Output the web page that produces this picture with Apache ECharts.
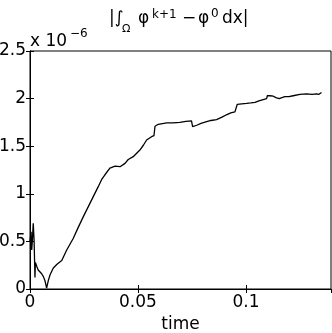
<!DOCTYPE html>
<html>
<head>
<meta charset="utf-8">
<script src="https://cdn.jsdelivr.net/npm/echarts@6/dist/echarts.min.js"></script>
<style>
  html, body { margin: 0; padding: 0; background: #fff; }
  #chart { width: 332px; height: 333px; }
</style>
</head>
<body>
<div id="chart"></div>
<script>
// time samples
const time = [
  0, 0.0005, 0.0008, 0.0011, 0.0015, 0.0019, 0.0023, 0.0025, 0.0028, 0.0031,
  0.0038, 0.0046, 0.0054, 0.0062, 0.0069, 0.0077, 0.0085, 0.0093, 0.0108, 0.0125,
  0.0147, 0.017, 0.02, 0.0224, 0.0247, 0.027, 0.0293, 0.0316, 0.0333, 0.0347,
  0.037, 0.0394, 0.0417, 0.0424, 0.044, 0.0455, 0.0478, 0.0509, 0.0525, 0.054,
  0.0563, 0.0574, 0.0579, 0.0594, 0.0633, 0.0662, 0.0694, 0.0722, 0.0748, 0.0753,
  0.0772, 0.0792, 0.0818, 0.0838, 0.0864, 0.0889, 0.091, 0.093, 0.0949, 0.0957,
  0.096, 0.0981, 0.1003, 0.1023, 0.1042, 0.106, 0.108, 0.1096, 0.1099, 0.1111,
  0.1127, 0.1139, 0.1154, 0.118, 0.1199, 0.1219, 0.1227, 0.125, 0.1281, 0.1306,
  0.1327, 0.1338, 0.135
]
// |integral| in units of 1e-6
const value = [
  0.50, 0.60, 0.41, 0.51, 0.69, 0.51, 0.12, 0.28, 0.28, 0.24,
  0.20, 0.18, 0.16, 0.13, 0.09, 0.01, 0.09, 0.15, 0.22, 0.26,
  0.30, 0.41, 0.53, 0.65, 0.76, 0.865, 0.97, 1.075, 1.155, 1.20,
  1.27, 1.29, 1.285, 1.27, 1.32, 1.36, 1.39, 1.46, 1.51, 1.565,
  1.60, 1.61, 1.71, 1.73, 1.745, 1.745, 1.75, 1.76, 1.765, 1.705,
  1.72, 1.74, 1.757, 1.77, 1.78, 1.805, 1.83, 1.85, 1.86, 1.88,
  1.94, 1.945, 1.95, 1.955, 1.96, 1.975, 1.99, 2.0, 2.03, 2.03,
  2.025, 2.01, 2.0, 2.02, 2.02, 2.03, 2.045, 2.045, 2.05, 2.045,
  2.05, 2.045, 2.065
]
const xRange = [0, 0.1394]
const yRange = [0, 2.5]
const xStep = 0.05
const yStep = 0.5

const font = 'DejaVu Sans'
const chart = echarts.init(document.getElementById('chart'))

const tickStyle = { inside: true, length: 4, lineStyle: { color: '#000' } }
const lineStyle = { lineStyle: { color: '#000', width: 1 } }

function txt (x, y, text, size) {
  return {
    type: 'text',
    x: x,
    y: y,
    style: {
      text: text,
      fill: '#000',
      font: size + 'px "' + font + '"',
      textAlign: 'left',
      textVerticalAlign: 'middle'
    }
  }
}

chart.setOption({
  animation: false,
  backgroundColor: '#fff',
  grid: {
    left: 30, right: 1, top: 51, bottom: 44,
    outerBoundsMode: 'none',
    show: true, borderColor: '#000', borderWidth: 1
  },
  xAxis: [
    {
      type: 'value', min: xRange[0], max: xRange[1], interval: xStep, position: 'bottom',
      axisLine: lineStyle, axisTick: tickStyle, splitLine: { show: false },
      axisLabel: { color: '#000', fontFamily: font, fontSize: 17, margin: 5, showMaxLabel: false },
      name: 'time', nameLocation: 'middle', nameGap: 24,
      nameTextStyle: { color: '#000', fontFamily: font, fontSize: 17 }
    },
    {
      type: 'value', min: xRange[0], max: xRange[1], interval: xStep, position: 'top',
      axisLine: lineStyle, axisTick: tickStyle, splitLine: { show: false },
      axisLabel: { show: false }
    }
  ],
  yAxis: [
    {
      type: 'value', min: yRange[0], max: yRange[1], interval: yStep, position: 'left',
      axisLine: { show: true, lineStyle: { color: '#000', width: 1 } }, axisTick: tickStyle, splitLine: { show: false },
      axisLabel: { color: '#000', fontFamily: font, fontSize: 17, margin: 4 }
    },
    {
      type: 'value', min: yRange[0], max: yRange[1], interval: yStep, position: 'right',
      axisLine: { show: true, lineStyle: { color: '#000', width: 1 } }, axisTick: tickStyle, splitLine: { show: false },
      axisLabel: { show: false }
    }
  ],
  graphic: [
    // title |∫Ω φ^{k+1} − φ^0 dx|
    txt(109, 19, '|∫', 17),
    txt(122, 29, 'Ω', 11),
    txt(138, 19, 'φ', 17),
    txt(152, 15, 'k+1', 12),
    txt(182, 19, '−', 17),
    txt(198, 19, 'φ', 17),
    txt(211, 14, '0', 12),
    txt(222, 19, 'dx|', 17),
    // exponent
    txt(30, 42, 'x 10', 17),
    txt(70, 34, '−6', 12)
  ],
  series: [
    {
      type: 'line',
      xAxisIndex: 0,
      yAxisIndex: 0,
      showSymbol: false,
      symbol: 'none',
      lineStyle: { color: '#000', width: 1.3 },
      data: time.map((t, i) => [t, value[i]])
    }
  ]
})
</script>
</body>
</html>
